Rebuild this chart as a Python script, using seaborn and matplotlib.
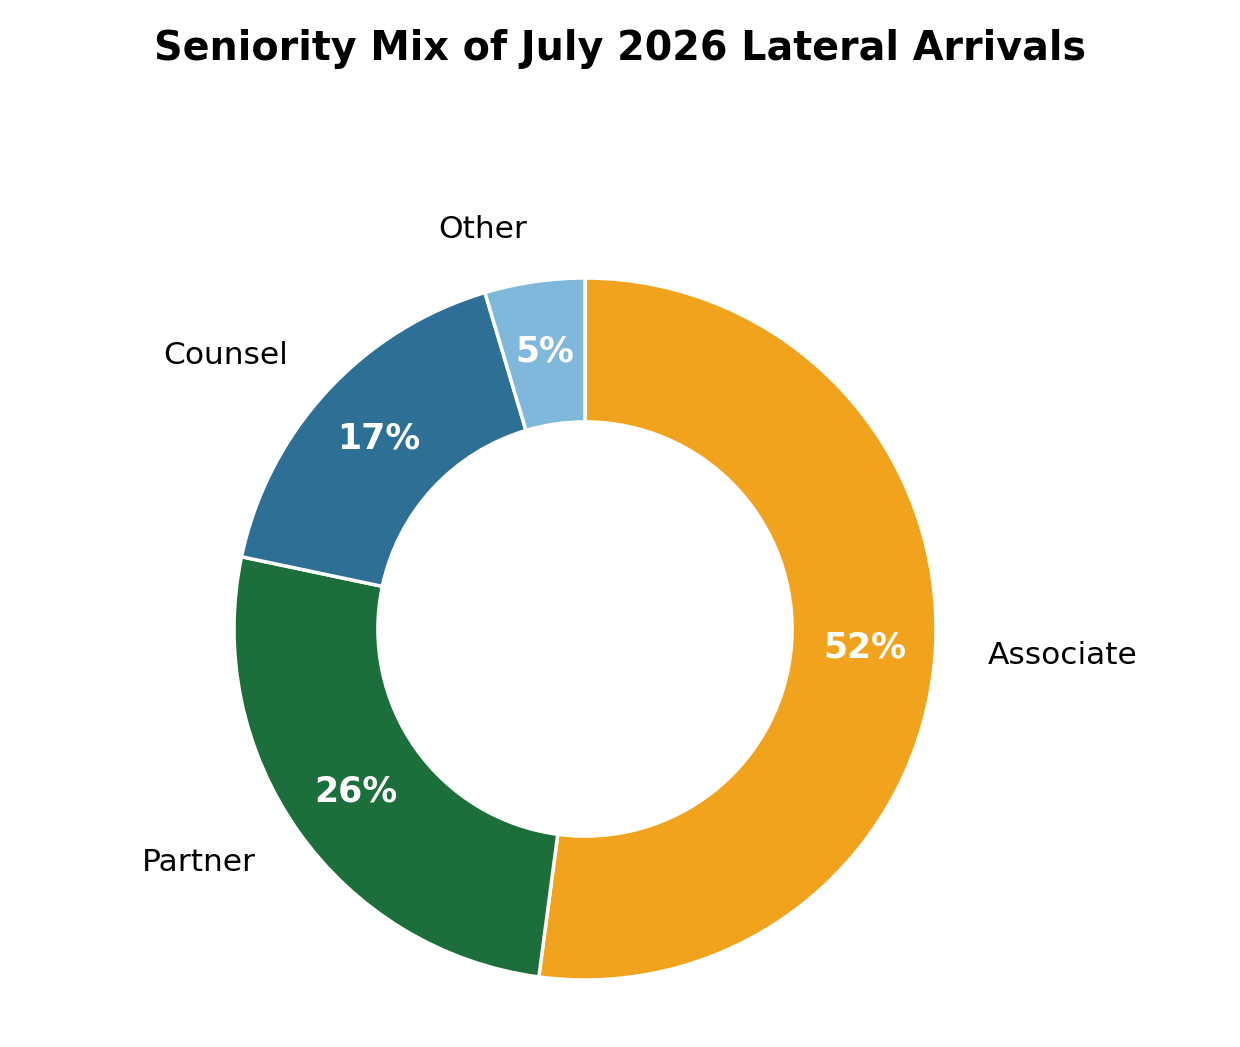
import matplotlib
matplotlib.use("Agg")
import matplotlib.pyplot as plt
import seaborn as sns

# seniority mix (share of lateral arrivals, %)
categories = ["Associate", "Partner", "Counsel", "Other"]
shares = [52.1, 26.2, 17.1, 4.6]
colors = ["#F2A31E", "#1C6E3A", "#2E7095", "#7FB8DA"]

sns.set_style("white")
plt.rcParams['font.family'] = ['DejaVu Sans']
plt.rcParams['text.color'] = 'black'

fig = plt.figure(figsize=(12.4, 10.47), dpi=100)
W, H = 1240, 1047
cx, cy, r = 585, 629, 351
lim = 1.25
side = 2 * lim * r
ax = fig.add_axes([(cx - side / 2) / W, (H - cy - side / 2) / H, side / W, side / H])

wedges, texts, autotexts = ax.pie(
    shares,
    labels=categories,
    colors=colors,
    startangle=90,
    counterclock=False,
    autopct='%1.0f%%',
    pctdistance=0.8,
    labeldistance=1.15,
    wedgeprops=dict(width=0.41, edgecolor='white', linewidth=2.5),
    textprops=dict(fontsize=22.5, color='black'),
)
for t in autotexts:
    t.set_color('white')
    t.set_fontsize(25)
    t.set_fontweight('bold')

ax.set_xlim(-lim, lim)
ax.set_ylim(-lim, lim)
ax.set_aspect('equal')
ax.axis('off')

fig.text(620 / W, 1 - 49 / H, "Seniority Mix of July 2026 Lateral Arrivals",
         ha='center', va='center', fontsize=28.5, fontweight='bold', color='black')

fig.savefig("out.png", dpi=100)
